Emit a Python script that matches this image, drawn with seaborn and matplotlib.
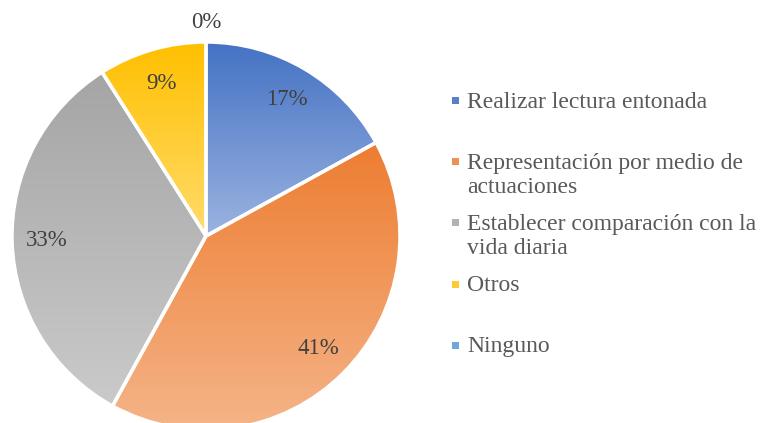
import numpy as np
import matplotlib
matplotlib.use("Agg")
import matplotlib.pyplot as plt
import seaborn as sns
from matplotlib.colors import LinearSegmentedColormap
from matplotlib.patches import Rectangle

sns.set_theme(style="white")
plt.rcParams['font.family'] = ['Liberation Serif', 'DejaVu Serif']

# ---- data ----
categories = [
    "Realizar lectura entonada",
    "Representación por medio de\nactuaciones",
    "Establecer comparación con la\nvida diaria",
    "Otros",
    "Ninguno",
]
values = [17, 41, 33, 9, 0]
pct_labels = ["17%", "41%", "33%", "9%", "0%"]
top_colors = ["#4472C4", "#ED7D31", "#A5A5A5", "#FFC000", "#5B9BD5"]
bottom_colors = ["#9BB3E0", "#F5B488", "#CACACA", "#FFDB6C", "#9DC3E6"]
legend_colors = ["#5A80C8", "#EF9055", "#B3B3B3", "#FFCB33", "#6FA8DC"]

# ---- layout ----
W, H = 761, 423
fig = plt.figure(figsize=(W / 100, H / 100), dpi=100)
cx, cy, R = 206, 236, 194
ax = fig.add_axes([(cx - R) / W, (H - cy - R) / H, 2 * R / W, 2 * R / H])

wedges, _ = ax.pie(values, startangle=90, counterclock=False, radius=1,
                   wedgeprops=dict(edgecolor="white", linewidth=2.5))

grad = np.linspace(0, 1, 256).reshape(-1, 1)
for w, v, tc, bc, lab in zip(wedges, values, top_colors, bottom_colors, pct_labels):
    mid = np.deg2rad((w.theta1 + w.theta2) / 2)
    if v > 0:
        ext = w.get_path().get_extents()
        cmap = LinearSegmentedColormap.from_list("g", [tc, bc])
        im = ax.imshow(grad, cmap=cmap, aspect="auto", origin="upper",
                       extent=[ext.x0, ext.x1, ext.y0, ext.y1], zorder=1)
        im.set_clip_path(w)
        w.set_facecolor("none")
        w.set_zorder(2)
        r = 0.82
    else:
        w.set_visible(False)
        r = 1.10
    ax.text(r * np.cos(mid), r * np.sin(mid), lab, ha="center", va="center",
            fontsize=16.5, color="#404040", zorder=3)

ax.set_xlim(-1, 1)
ax.set_ylim(-1, 1)
ax.set_aspect("equal")
ax.axis("off")

# ---- legend ----
y0, dy = 101, 61
for i, (cat, col) in enumerate(zip(categories, legend_colors)):
    yc = y0 + i * dy
    fig.patches.append(Rectangle(((452) / W, (H - yc - 3.5) / H), 7 / W, 7 / H,
                                 transform=fig.transFigure, facecolor=col,
                                 edgecolor="none"))
    fig.text(467 / W, (H - yc + 9) / H, cat, ha="left", va="top",
             fontsize=17, color="#595959", linespacing=1.2)

fig.savefig("out.png", dpi=100)
